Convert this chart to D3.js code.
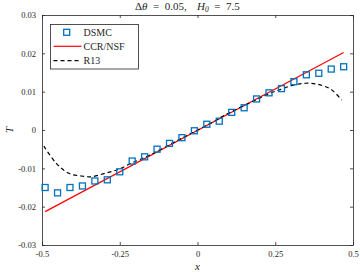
<html lang="en">
<head>
<meta charset="utf-8">
<script src="https://d3js.org/d3.v7.min.js"></script>
<style>
  body { margin: 0; background: #fff; }
  text { font-family: "Liberation Serif", "DejaVu Serif", serif; fill: #262626; }
</style>
</head>
<body>
<div id="graph"></div>
<script>

// DSMC samples
var dsmcX = [-0.49,-0.45,-0.41,-0.37,-0.33,-0.29,-0.25,-0.21,-0.17,-0.13,-0.09,-0.05,-0.01,
             0.03,0.07,0.11,0.15,0.19,0.23,0.27,0.31,0.35,0.39,0.43,0.47]
var dsmcT = [-0.0150,-0.0164,-0.0150,-0.0146,-0.0133,-0.0130,-0.0109,-0.0081,-0.0070,-0.0050,-0.0035,-0.0020,-0.0002,
             0.0015,0.0023,0.0046,0.0058,0.0081,0.0097,0.0108,0.0126,0.0144,0.0148,0.0159,0.0165]

// CCR/NSF (straight line)
var ccrX = [-0.49, 0.47]
var ccrT = [-0.0213, 0.0202]

// R13
var r13X = [-0.494,-0.454,-0.414,-0.374,-0.341,-0.298,-0.255,-0.214,-0.15,-0.05,0.05,0.088,0.187,0.228,0.268,0.308,0.349,0.388,0.429,0.464]
var r13T = [-0.0042,-0.0087,-0.0113,-0.0120,-0.0122,-0.0113,-0.0103,-0.0087,-0.0064,-0.0021,0.0021,0.0039,0.0078,0.0094,0.0106,0.0117,0.0122,0.0119,0.0106,0.0078]

var xTicks = [-0.5,-0.25,0,0.25,0.5]
var xTickLabels = ["-0.5","-0.25","0","0.25","0.5"]
var yTicks = [-0.03,-0.02,-0.01,0,0.01,0.02,0.03]
var yTickLabels = ["-0.03","-0.02","-0.01","0","0.01","0.02","0.03"]

var W = 360, H = 273
var mLeft = 42, mRight = 353, mTop = 15, mBottom = 245

var svg = d3.select('#graph').append('svg').attr('width',W).attr('height',H)

var xScale = d3.scaleLinear().domain([-0.5,0.5]).range([mLeft,mRight])
var yScale = d3.scaleLinear().domain([-0.03,0.03]).range([mBottom,mTop])

var axisColor = "#262626"

// axes with inward ticks on all sides
var xb = d3.axisBottom(xScale).tickValues(xTicks).tickSizeInner(-3).tickSizeOuter(0)
  .tickPadding(6).tickFormat(function(d,i){ return xTickLabels[i] })
var xt = d3.axisTop(xScale).tickValues(xTicks).tickSizeInner(-3).tickSizeOuter(0).tickFormat("")
var yl = d3.axisLeft(yScale).tickValues(yTicks).tickSizeInner(-3).tickSizeOuter(0)
  .tickPadding(6).tickFormat(function(d,i){ return yTickLabels[i] })
var yr = d3.axisRight(yScale).tickValues(yTicks).tickSizeInner(-3).tickSizeOuter(0).tickFormat("")

function styleAxis(g){
  g.selectAll('path').attr('stroke',axisColor).attr('stroke-width',0.8)
  g.selectAll('line').attr('stroke',axisColor).attr('stroke-width',0.8)
  g.selectAll('text').attr('fill',axisColor).style('font-size','8.5px')
    .style('font-family','"Liberation Serif", "DejaVu Serif", serif')
}

svg.append('g').attr('transform','translate(0,'+mBottom+')').call(xb).call(styleAxis)
svg.append('g').attr('transform','translate(0,'+mTop+')').call(xt).call(styleAxis)
svg.append('g').attr('transform','translate('+mLeft+',0)').call(yl).call(styleAxis)
svg.append('g').attr('transform','translate('+mRight+',0)').call(yr).call(styleAxis)

var plot = svg.append('g')

// CCR/NSF
var ccr = ccrX.map(function(x,i){ return [x, ccrT[i]] })
plot.append('path').datum(ccr)
  .attr('d', d3.line().x(function(d){ return xScale(d[0]) }).y(function(d){ return yScale(d[1]) }))
  .attr('fill','none').attr('stroke','#ff0000').attr('stroke-width',1.2)

// R13
var r13 = r13X.map(function(x,i){ return [x, r13T[i]] })
plot.append('path').datum(r13)
  .attr('d', d3.line().curve(d3.curveCatmullRom).x(function(d){ return xScale(d[0]) }).y(function(d){ return yScale(d[1]) }))
  .attr('fill','none').attr('stroke','#000').attr('stroke-width',1.2).attr('stroke-dasharray','4,3')

// DSMC squares
var dsmc = dsmcX.map(function(x,i){ return [x, dsmcT[i]] })
var sq = 6
plot.selectAll('.dsmc').data(dsmc).enter().append('rect').attr('class','dsmc')
  .attr('x', function(d){ return xScale(d[0]) - sq/2 })
  .attr('y', function(d){ return yScale(d[1]) - sq/2 })
  .attr('width', sq).attr('height', sq)
  .attr('fill','none').attr('stroke','#0072BD').attr('stroke-width',1.3)

// legend
var lg = svg.append('g')
lg.append('rect').attr('x',50.5).attr('y',24.5).attr('width',88).attr('height',44.5)
  .attr('fill','#fff').attr('stroke',axisColor).attr('stroke-width',0.8)
lg.append('rect').attr('x',66.7-sq/2).attr('y',32.3-sq/2).attr('width',sq).attr('height',sq)
  .attr('fill','none').attr('stroke','#0072BD').attr('stroke-width',1.3)
lg.append('line').attr('x1',53.5).attr('x2',81.5).attr('y1',46.3).attr('y2',46.3)
  .attr('stroke','#ff0000').attr('stroke-width',1.2)
lg.append('line').attr('x1',53.5).attr('x2',81.5).attr('y1',60.7).attr('y2',60.7)
  .attr('stroke','#000').attr('stroke-width',1.2).attr('stroke-dasharray','4,3')
var legendNames = ["DSMC","CCR/NSF","R13"]
lg.selectAll('.lt').data(legendNames).enter().append('text').attr('class','lt')
  .attr('x',83.5).attr('y',function(d,i){ return 35.5 + i*14.3 })
  .style('font-size','10px').text(function(d){ return d })

// title, two parts with a wide gap between them
var t1 = svg.append('text').attr('x',135).attr('y',9.5).style('font-size','11px')
t1.append('tspan').text('Δ')
t1.append('tspan').style('font-style','italic').text('θ')
t1.append('tspan').text('\u2002=\u20020.05,')
var t2 = svg.append('text').attr('x',197).attr('y',9.5).style('font-size','11px')
t2.append('tspan').style('font-style','italic').text('H')
t2.append('tspan').attr('dy',2).style('font-size','7.5px').style('font-style','italic').text('0')
t2.append('tspan').attr('dy',-2).text('\u2002=\u20027.5')

// axis labels
svg.append('text').attr('x',197.5).attr('y',270).attr('text-anchor','middle')
  .style('font-size','11px').style('font-style','italic').text('x')
svg.append('text').attr('transform','translate(13,130) rotate(-90)').attr('text-anchor','middle')
  .style('font-size','11px').style('font-style','italic').text('T')

</script>
</body>
</html>
